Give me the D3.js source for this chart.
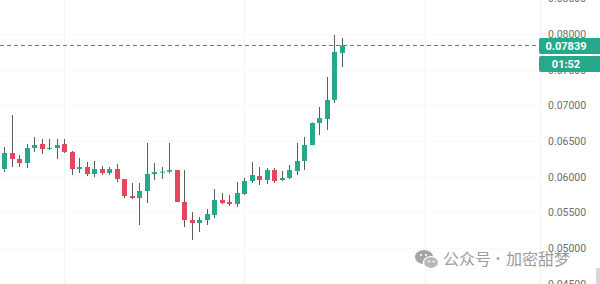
<!DOCTYPE html>
<html lang="en">
<head>
    <meta charset="UTF-8">
    <title>Candlestick</title>
    <script src="https://cdnjs.cloudflare.com/ajax/libs/d3/7.8.5/d3.min.js"></script>
    <style>
        html, body { margin: 0; padding: 0; background: #fff; }
        #chart { width: 600px; height: 284px; overflow: hidden; }
        .price-axis text { font-family: Roboto, "Noto Sans", sans-serif; font-size: 10.5px; fill: #6e6e6e; }
    </style>
</head>
<body>
    <div id="chart"></div>

    <script>
        // OHLC values, one entry per candle
        const opens  = [0.06107, 0.06332, 0.06248, 0.06192, 0.06402, 0.06458, 0.06388, 0.06402, 0.06458, 0.06346,
                        0.06107, 0.06135, 0.06037, 0.06107, 0.06051, 0.06107, 0.05967, 0.05729, 0.05701, 0.05799,
                        0.06037, 0.06065, 0.06070, 0.06093, 0.05645, 0.05392, 0.05350, 0.05392, 0.05463, 0.05673,
                        0.05645, 0.05617, 0.05757, 0.05939, 0.06009, 0.05953, 0.06093, 0.05953, 0.05981, 0.06079,
                        0.06220, 0.06444, 0.06752, 0.06808, 0.07075, 0.07734];
        const highs  = [0.06416, 0.06864, 0.06304, 0.06458, 0.06556, 0.06528, 0.06528, 0.06528, 0.06528, 0.06360,
                        0.06262, 0.06206, 0.06220, 0.06150, 0.06135, 0.06178, 0.05967, 0.05911, 0.05911, 0.06472,
                        0.06192, 0.06135, 0.06472, 0.06093, 0.06093, 0.05505, 0.05434, 0.05547, 0.05827, 0.05771,
                        0.05743, 0.05925, 0.05981, 0.06206, 0.06135, 0.06121, 0.06121, 0.06079, 0.06164, 0.06472,
                        0.06556, 0.06760, 0.06977, 0.07397, 0.07986, 0.07944];
        const lows   = [0.06065, 0.06135, 0.06135, 0.06121, 0.06346, 0.06318, 0.06374, 0.06248, 0.06332, 0.06023,
                        0.06051, 0.06009, 0.05995, 0.06023, 0.06023, 0.05925, 0.05701, 0.05687, 0.05322, 0.05631,
                        0.05953, 0.05967, 0.06051, 0.05645, 0.05294, 0.05112, 0.05224, 0.05322, 0.05420, 0.05617,
                        0.05589, 0.05575, 0.05743, 0.05911, 0.05883, 0.05897, 0.05911, 0.05939, 0.05967, 0.06023,
                        0.06093, 0.06440, 0.06584, 0.06654, 0.07033, 0.07537];
        const closes = [0.06332, 0.06248, 0.06192, 0.06402, 0.06444, 0.06388, 0.06402, 0.06444, 0.06346, 0.06107,
                        0.06135, 0.06037, 0.06107, 0.06051, 0.06107, 0.05967, 0.05729, 0.05701, 0.05799, 0.06037,
                        0.06065, 0.06070, 0.06093, 0.05645, 0.05392, 0.05350, 0.05392, 0.05477, 0.05673, 0.05631,
                        0.05617, 0.05771, 0.05939, 0.06023, 0.05953, 0.06093, 0.05939, 0.05981, 0.06093, 0.06220,
                        0.06444, 0.06752, 0.06822, 0.07075, 0.07748, 0.07839];

        const priceTicks = [0.045, 0.050, 0.055, 0.060, 0.065, 0.070, 0.075, 0.080, 0.085];
        const lastPrice = 0.07839;
        const countdown = "01:52";
        const watermarkLeft = "公众号";
        const watermarkDot = "·";
        const watermarkRight = "加密甜梦";

        const width = 600;
        const height = 284;
        const axisLeft = 540;

        const upColor = "#26a98b";
        const downColor = "#e5465b";
        const wickColor = "#565f5c";

        const candles = opens.map((o, i) => ({ i: i, o: o, h: highs[i], l: lows[i], c: closes[i] }));

        const svg = d3.select("#chart").append("svg")
            .attr("width", width)
            .attr("height", height);

        // Scales
        const x = d3.scaleLinear()
            .domain([0, candles.length - 1])
            .range([4, 342]);

        const y = d3.scaleLinear()
            .domain([0.045, 0.085])
            .range([283.7, -1.7]);

        // Faint grid
        const grid = svg.append("g");
        grid.selectAll("line.h")
            .data(priceTicks)
            .enter().append("line")
            .attr("class", "h")
            .attr("x1", 0).attr("x2", axisLeft)
            .attr("y1", d => Math.round(y(d)) + 0.5)
            .attr("y2", d => Math.round(y(d)) + 0.5)
            .attr("stroke", "#f9f9fa");

        // vertical time grid, every 24 candles
        grid.selectAll("line.v")
            .data([8, 32, 56])
            .enter().append("line")
            .attr("class", "v")
            .attr("x1", d => Math.round(x(d)) + 0.5)
            .attr("x2", d => Math.round(x(d)) + 0.5)
            .attr("y1", 0).attr("y2", height)
            .attr("stroke", "#f2f3f4");

        grid.append("line")
            .attr("x1", axisLeft + 0.5).attr("x2", axisLeft + 0.5)
            .attr("y1", 0).attr("y2", height)
            .attr("stroke", "#f2f3f4");

        // Price axis
        svg.append("g")
            .attr("class", "price-axis")
            .attr("transform", `translate(548,0)`)
            .call(d3.axisRight(y)
                .tickValues(priceTicks)
                .tickSize(0)
                .tickPadding(0)
                .tickFormat(d3.format(".5f")))
            .call(g => g.select(".domain").remove());

        // Watermark (wechat bubbles + account name)
        const wm = svg.append("g").attr("transform", "translate(415,259)");
        wm.append("ellipse").attr("cx", 9).attr("cy", -2).attr("rx", 9).attr("ry", 7).attr("fill", "#a5a5a5");
        wm.append("ellipse").attr("cx", 16).attr("cy", 3.5).attr("rx", 7.5).attr("ry", 6)
            .attr("fill", "#b8b8b8").attr("stroke", "#fff").attr("stroke-width", 1.2);
        wm.selectAll("circle.eye")
            .data([[6, -4], [11, -4], [14, 2.5], [18.5, 2.5]])
            .enter().append("circle")
            .attr("cx", d => d[0]).attr("cy", d => d[1]).attr("r", 1.1)
            .attr("fill", "#fff");

        const wmText = svg.append("g")
            .attr("font-family", "'Noto Sans CJK SC', sans-serif")
            .attr("fill", "#9c9c9c");
        wmText.append("text").attr("x", 443).attr("y", 265)
            .attr("font-size", 16).text(watermarkLeft);
        wmText.append("text").attr("x", 498).attr("y", 263)
            .attr("font-size", 11).attr("font-weight", "bold")
            .attr("text-anchor", "middle").text(watermarkDot);
        wmText.append("text").attr("x", 506).attr("y", 265)
            .attr("font-size", 16).text(watermarkRight);

        // Candles
        const candle = svg.append("g").selectAll("g")
            .data(candles)
            .enter().append("g");

        candle.append("line")
            .attr("x1", d => Math.round(x(d.i)) + 0.5)
            .attr("x2", d => Math.round(x(d.i)) + 0.5)
            .attr("y1", d => y(d.h))
            .attr("y2", d => y(d.l))
            .attr("stroke", wickColor)
            .attr("stroke-width", 1);

        candle.append("rect")
            .attr("x", d => Math.round(x(d.i)) - 2)
            .attr("width", 5)
            .attr("y", d => y(Math.max(d.o, d.c)))
            .attr("height", d => Math.max(1, y(Math.min(d.o, d.c)) - y(Math.max(d.o, d.c))))
            .attr("fill", d => d.c >= d.o ? upColor : downColor);

        // Last price line + labels
        const ly = Math.round(y(lastPrice));
        svg.append("line")
            .attr("x1", 0).attr("x2", 539)
            .attr("y1", ly + 0.5)
            .attr("y2", ly + 0.5)
            .attr("stroke", "#5e7f77")
            .attr("stroke-width", 1)
            .attr("stroke-dasharray", "4,3");

        const labels = svg.append("g");
        labels.append("rect")
            .attr("x", 539).attr("y", ly - 7)
            .attr("width", 64).attr("height", 16)
            .attr("rx", 2)
            .attr("fill", upColor);
        labels.append("rect")
            .attr("x", 539).attr("y", ly + 11)
            .attr("width", 64).attr("height", 16)
            .attr("rx", 2)
            .attr("fill", upColor);
        labels.append("text")
            .attr("x", 566).attr("y", ly + 1)
            .attr("dy", "0.35em")
            .attr("text-anchor", "middle")
            .attr("font-family", "Roboto, sans-serif")
            .attr("font-size", 11)
            .attr("font-weight", "bold")
            .attr("fill", "#fff")
            .text(d3.format(".5f")(lastPrice));
        labels.append("text")
            .attr("x", 566).attr("y", ly + 19)
            .attr("dy", "0.35em")
            .attr("text-anchor", "middle")
            .attr("font-family", "Roboto, sans-serif")
            .attr("font-size", 11)
            .attr("font-weight", "bold")
            .attr("fill", "#fff")
            .text(countdown);

        // small control at bottom-right corner
        svg.append("rect")
            .attr("x", 596).attr("y", 268)
            .attr("width", 4).attr("height", 16)
            .attr("fill", "#d8d8d8");
    </script>
</body>
</html>
